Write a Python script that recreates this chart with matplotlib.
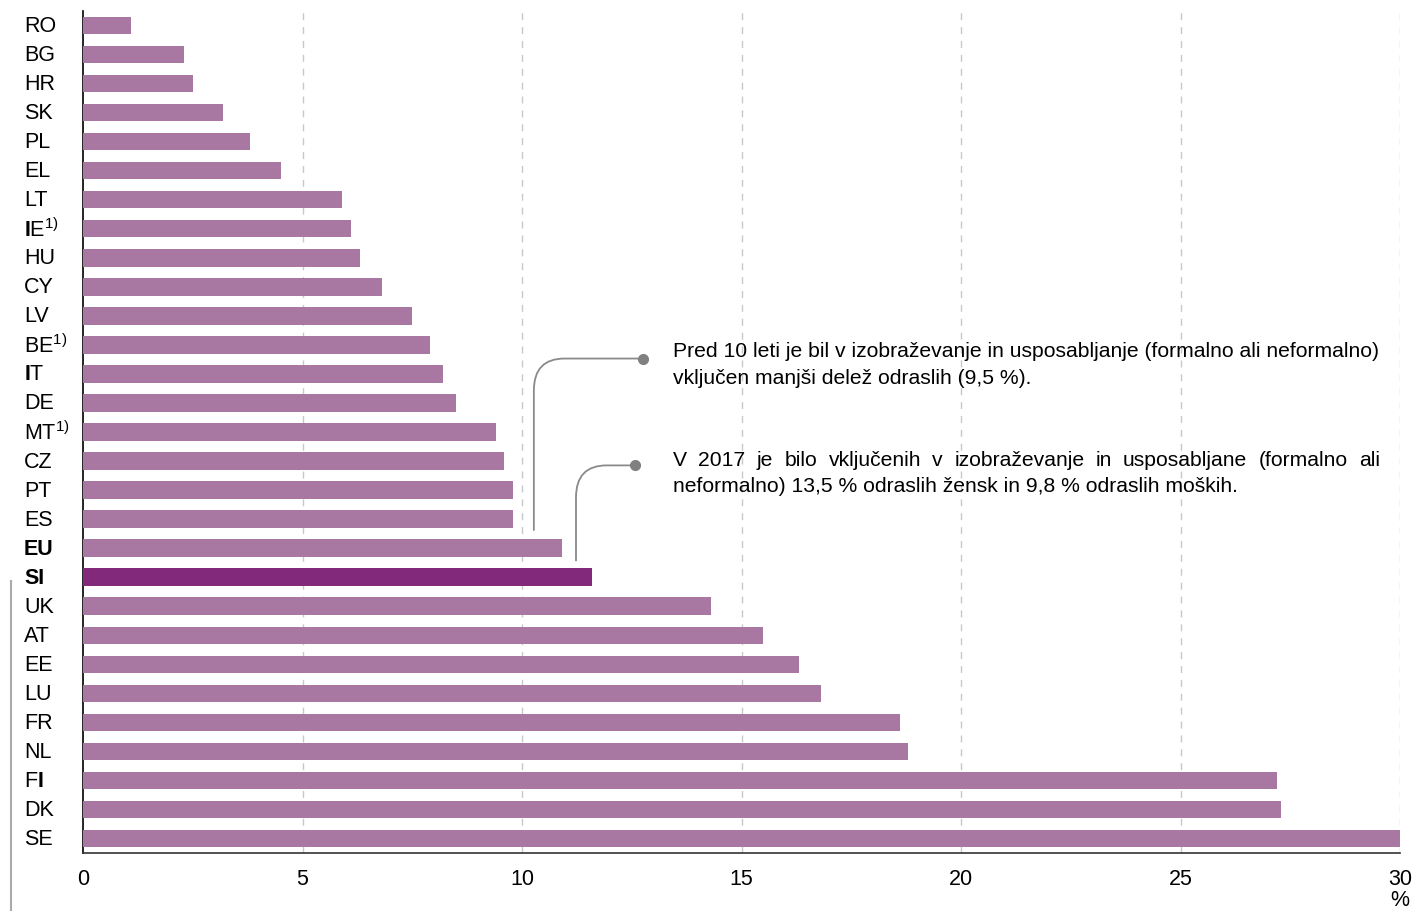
import matplotlib
matplotlib.use("Agg")
import matplotlib.pyplot as plt
from matplotlib.path import Path
from matplotlib.patches import PathPatch
from matplotlib.lines import Line2D
import matplotlib.transforms as mtransforms

plt.rcParams['font.family'] = ['Liberation Sans', 'DejaVu Sans']
plt.rcParams['mathtext.fontset'] = 'custom'
plt.rcParams['mathtext.rm'] = 'Liberation Sans'
plt.rcParams['mathtext.it'] = 'Liberation Sans:italic'
plt.rcParams['mathtext.bf'] = 'Liberation Sans:bold'

countries = ["RO", "BG", "HR", "SK", "PL", "EL", "LT", "IE", "HU", "CY", "LV", "BE", "IT", "DE",
             "MT", "CZ", "PT", "ES", "EU", "SI", "UK", "AT", "EE", "LU", "FR", "NL", "FI", "DK", "SE"]
values = [1.1, 2.3, 2.5, 3.2, 3.8, 4.5, 5.9, 6.1, 6.3, 6.8, 7.5, 7.9, 8.2, 8.5,
          9.4, 9.6, 9.8, 9.8, 10.9, 11.6, 14.3, 15.5, 16.3, 16.8, 18.6, 18.8, 27.2, 27.3, 30.0]
labels = ["RO", "BG", "HR", "SK", "PL", "EL", "LT", r"$\mathbf{I}$E$^{1)}$", "HU", "CY", "LV",
          r"BE$^{1)}$", r"$\mathbf{I}$T", "DE", r"MT$^{1)}$", "CZ", "PT", "ES", "EU", "SI",
          "UK", "AT", "EE", "LU", "FR", "NL", r"F$\mathbf{I}$", "DK", "SE"]
bold_labels = ["EU", "SI"]
highlight = "SI"
xticks = [0, 5, 10, 15, 20, 25, 30]

note1 = ["Pred 10 leti je bil v izobraževanje in usposabljanje (formalno ali neformalno)",
         "vključen manjši delež odraslih (9,5 %)."]
note2 = ["V 2017 je bilo vključenih v izobraževanje in usposabljane (formalno ali",
         "neformalno) 13,5 % odraslih žensk in 9,8 % odraslih moških."]

W, H = 1415, 912
fig = plt.figure(figsize=(W / 100, H / 100), dpi=100)
ax = fig.add_axes([83 / W, 1 - 854 / H, (1400 - 83) / W, (854 - 12) / H])

base_col = "#a878a3"
hi_col = "#82297b"
y = list(range(len(countries)))
cols = [hi_col if c == highlight else base_col for c in countries]
ax.barh(y, values, height=0.6, color=cols, zorder=3)

ax.set_xlim(0, 30)
ax.set_ylim(len(countries) - 0.5, -0.5)
ax.set_xticks(xticks)
ax.set_xticklabels([str(t) for t in xticks], fontsize=15.5)
ax.tick_params(axis='x', length=0, pad=11)
ax.set_yticks([])
for t in xticks[1:]:
    ax.axvline(t, color="#c8c8c8", lw=1, ls=(0, (5, 5)), zorder=1)
for s in ["top", "right"]:
    ax.spines[s].set_visible(False)
ax.spines["left"].set_color("black")
ax.spines["bottom"].set_color("#333333")
ax.spines["left"].set_linewidth(1.2)
ax.spines["bottom"].set_linewidth(1.2)

# category labels
tr = mtransforms.blended_transform_factory(fig.transFigure, ax.transData)
for i, (c, lab) in enumerate(zip(countries, labels)):
    ax.text(24 / W, i, lab, transform=tr, ha="left", va="center", fontsize=15.5,
            fontweight="bold" if c in bold_labels else "normal")

fig.text(1400 / W, 1 - 901 / H, "%", ha="center", va="center", fontsize=15.5)

# left grey vertical line
fig.add_artist(Line2D([11 / W, 11 / W], [1 - 582 / H, 0], transform=fig.transFigure,
                      color="#aaaaaa", lw=1.5))

# connectors (data coords)
def connector(x_v, y_bottom, y_h, x_dot, rx=0.7, ry=1.1):
    verts = [(x_v, y_bottom), (x_v, y_h + ry), (x_v, y_h), (x_v + rx, y_h), (x_dot, y_h)]
    codes = [Path.MOVETO, Path.LINETO, Path.CURVE3, Path.CURVE3, Path.LINETO]
    ax.add_patch(PathPatch(Path(verts, codes), fill=False, edgecolor="#8a8a8a", lw=1.3,
                           clip_on=False, zorder=4))
    ax.plot([x_dot], [y_h], "o", color="#808080", ms=7, clip_on=False, zorder=5)

connector(10.27, 17.4, 11.47, 12.75)
connector(11.23, 18.45, 15.15, 12.57)

fs_note = 15.2
fig.canvas.draw()
renderer = fig.canvas.get_renderer()

def justified(line, x0, x1, ypix):
    words = line.split(" ")
    texts = []
    widths = []
    for w_ in words:
        t = fig.text(0, 0, w_, fontsize=fs_note)
        bb = t.get_window_extent(renderer)
        widths.append(bb.width)
        texts.append(t)
    gap = ((x1 - x0) - sum(widths)) / (len(words) - 1)
    x = x0
    for t, wd in zip(texts, widths):
        t.set_position((x / W, 1 - ypix / H))
        t.set_va("center")
        x += wd + gap

fig.text(673 / W, 1 - 352 / H, note1[0], fontsize=fs_note, va="center")
fig.text(673 / W, 1 - 378 / H, note1[1], fontsize=fs_note, va="center")
justified(note2[0], 673, 1380, 461)
fig.text(673 / W, 1 - 486 / H, note2[1], fontsize=fs_note, va="center")

fig.savefig("out.png", dpi=100)
